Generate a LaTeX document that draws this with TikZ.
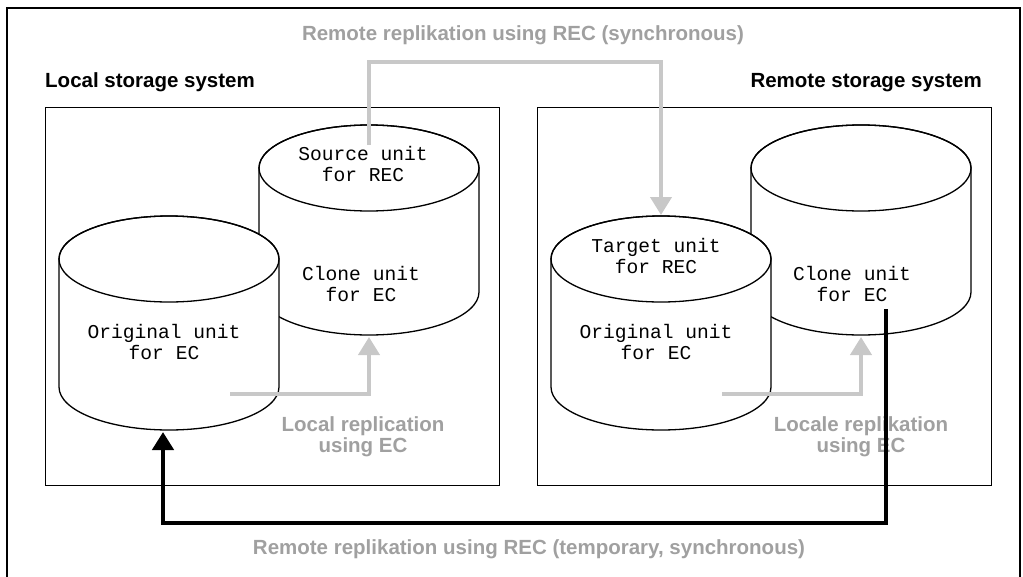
\documentclass[tikz,border=0pt]{standalone}
\usepackage{fontspec}
\setmainfont{Liberation Sans}
\setmonofont{Liberation Mono}
\usepackage{xcolor}
\usepackage{tikz}
\usetikzlibrary{arrows.meta,positioning}

% disk drawn as a cylinder: centre x, y of top ellipse, y of bottom ellipse
\newcommand{\drum}[3]{%
  \draw[fill=white,line width=1.3pt] (#1-110,#2) -- (#1-110,#3)
    arc[start angle=180,end angle=0,x radius=110,y radius=43] -- (#1+110,#2)
    arc[start angle=360,end angle=180,x radius=110,y radius=43] -- cycle;
  \draw[line width=1.3pt] (#1,#2) ellipse[x radius=110,y radius=43];
}

\begin{document}
\begin{tikzpicture}[x=1pt,y=-1pt]
\definecolor{notegray}{HTML}{A0A0A0}
\definecolor{arrowgray}{HTML}{C8C8C8}
\tikzset{
  systitle/.style={font=\fontsize{20.5}{23}\selectfont\bfseries,inner sep=0pt},
  note/.style={font=\fontsize{20.5}{21}\selectfont\bfseries,text=notegray,align=center,inner sep=0pt},
  unit/.style={font=\fontsize{19.6}{21}\selectfont\ttfamily,align=center,inner sep=0pt},
  grayarrow/.style={draw=arrowgray,line width=4pt,-{Triangle[width=21pt,length=18pt]}},
  blackarrow/.style={draw=black,line width=4.5pt,-{Triangle[width=21pt,length=18pt]}},
}
\useasboundingbox (0,0) rectangle (1023,576);
\draw[line width=1.5pt] (7,600) -- (7,8) -- (1020,8) -- (1020,600);

% the two storage systems
\foreach \s in {0,492} {
  \draw[line width=1pt] (45+\s,107) rectangle (499+\s,485);
  \drum{369+\s}{168}{292}
  \drum{169+\s}{259}{387}
}

\node[systitle,anchor=base west] (localsys) at (45,87) {Local storage system};
\node[systitle,anchor=base east] (remotesys) at (982,87) {Remote storage system};

\node[unit] (source) at (363,164) {Source unit\\for REC};
\node[unit] (cloneL) at (361,284) {Clone unit\\for EC};
\node[unit] (origL) at (164,342) {Original unit\\for EC};
\node[unit] (target) at (656,256) {Target unit\\for REC};
\node[unit] (cloneR) at (852,284) {Clone unit\\for EC};
\node[unit] (origR) at (656,342) {Original unit\\for EC};

\node[note,anchor=base] (syncnote) at (523,40) {Remote replikation using REC (synchronous)};
\node[note] (localnote) at (363,437) {Local replication\\using EC};
\node[note] (remotenote) at (861,437) {Locale replikation\\using EC};
\node[note,anchor=base] (tempnote) at (529,554) {Remote replikation using REC (temporary, synchronous)};

% connector ends
\coordinate (recstart) at (369,145);
\coordinate (recend) at (661,215);
\coordinate (ecstartL) at (230,394);
\coordinate (ecendL) at (369,337);
\coordinate (ecstartR) at (722,394);
\coordinate (ecendR) at (861,337);
\coordinate (backstart) at (886,309);
\coordinate (backend) at (163,432);

\draw[grayarrow] (recstart) -- ++(0,-83) -| (recend);
\draw[grayarrow] (ecstartL) -| (ecendL);
\draw[grayarrow] (ecstartR) -| (ecendR);
\draw[blackarrow] (backstart) -- ++(0,214) -| (backend);
\end{tikzpicture}
\end{document}
